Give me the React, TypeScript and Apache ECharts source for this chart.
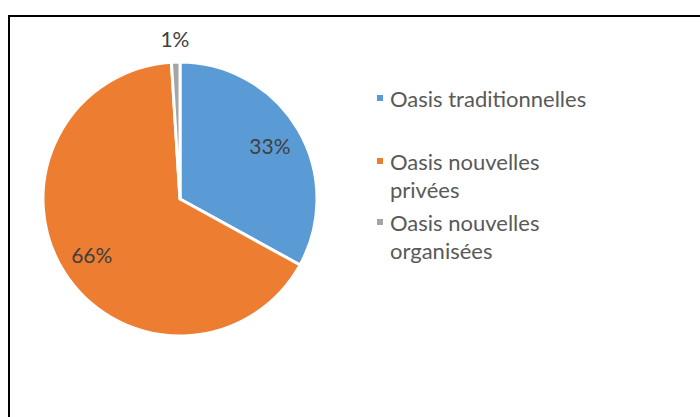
import React, { useEffect, useRef } from "react";
import * as echarts from "echarts";

const categories = [
  "Oasis traditionnelles",
  "Oasis nouvelles privées",
  "Oasis nouvelles organisées",
];
const values = [33, 66, 1];
const colors = ["#5B9BD5", "#ED7D31", "#A5A5A5"];
const insideLabelShown = [true, true, false];

const FONT = "Lato";

export default function App() {
  const ref = useRef<HTMLDivElement>(null);

  useEffect(() => {
    document.body.style.margin = "0";
    if (!ref.current) return;
    const chart = echarts.init(ref.current, null, { renderer: "svg" });

    const pct = (p: any) => Math.round(p.percent) + "%";
    const labelStyle = {
      color: "#404040",
      fontFamily: FONT,
      fontSize: 21,
    };

    const mainData = categories.map((name, i) => ({
      name,
      value: values[i],
      itemStyle: { color: colors[i] },
    }));

    const overlayInside = categories.map((name, i) => ({
      name,
      value: values[i],
      label: { show: insideLabelShown[i] },
    }));
    const overlayOutside = categories.map((name, i) => ({
      name,
      value: values[i],
      label: { show: !insideLabelShown[i] },
    }));

    // wrapped names get an empty first line so the icon sits on the first text line
    const legendFormatter = (name: string) =>
      name.includes("nouvelles ") ? "\n" + name.replace("nouvelles ", "nouvelles\n") : name;
    const legendTops = [84, 119, 180];
    const legends = categories.map((name, i) => ({
      data: [name],
      orient: "vertical",
      left: 375,
      top: legendTops[i],
      padding: 0,
      itemWidth: 8,
      itemHeight: 8,
      icon: "rect",
      selectedMode: false,
      formatter: legendFormatter,
      textStyle: {
        color: "#595959",
        fontFamily: FONT,
        fontSize: 22,
        lineHeight: 28,
        padding: [0, 0, 0, 1],
      },
    }));

    const overlayBase = {
      type: "pie",
      center: [180, 199],
      startAngle: 90,
      silent: true,
      avoidLabelOverlap: false,
      itemStyle: { color: "rgba(0,0,0,0)", borderWidth: 0 },
      labelLine: { show: false },
      emphasis: { disabled: true },
    };

    chart.setOption({
      animation: false,
      legend: legends,
      graphic: [
        {
          type: "rect",
          shape: { x: 9, y: 16, width: 800, height: 500 },
          style: { fill: "none", stroke: "#000", lineWidth: 2 },
          silent: true,
        },
      ],
      series: [
        {
          type: "pie",
          center: [180, 199],
          radius: 137,
          startAngle: 90,
          itemStyle: { borderColor: "#fff", borderWidth: 3 },
          label: { show: false },
          labelLine: { show: false },
          emphasis: { disabled: true },
          data: mainData,
        },
        {
          ...overlayBase,
          radius: [66, 137],
          label: { position: "inside", formatter: pct, ...labelStyle },
          data: overlayInside,
        },
        {
          ...overlayBase,
          radius: [148, 168],
          label: { position: "inside", formatter: pct, ...labelStyle },
          data: overlayOutside,
        },
      ],
    });

    return () => chart.dispose();
  }, []);

  return <div ref={ref} style={{ width: 700, height: 417 }} />;
}
